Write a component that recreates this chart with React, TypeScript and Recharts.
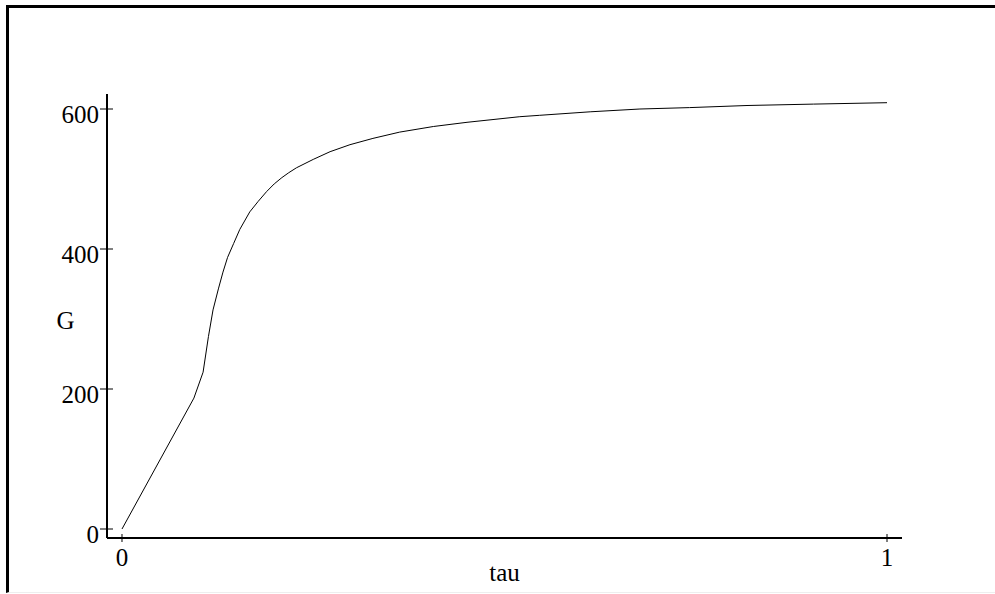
import { Line, LineChart, XAxis, YAxis, Label } from "recharts";

const FONT = "'Liberation Serif', 'Times New Roman', serif";

// G against tau
const tauValues = [
  0, 0.094, 0.106, 0.113, 0.119, 0.126, 0.132, 0.138, 0.146, 0.154, 0.167,
  0.178, 0.189, 0.199, 0.209, 0.218, 0.228, 0.25, 0.272, 0.298, 0.328,
  0.363, 0.407, 0.451, 0.52, 0.546, 0.612, 0.677, 0.742, 0.817, 0.904, 1,
];
const gValues = [
  0, 187, 224, 275, 313, 343, 367, 388, 408, 428, 453, 468, 482, 493, 502,
  509, 516, 528, 539, 549, 558, 567, 575, 581, 589, 591, 596, 600, 602, 605,
  607, 609,
];

const xTicks = [0, 1];
const yTicks = [0, 200, 400, 600];

const data = tauValues.map((tau, i) => ({ tau, G: gValues[i] }));

function YTick(props: any) {
  const { x, y, payload } = props;
  return (
    <g>
      <line x1={x - 7} x2={x + 6} y1={y} y2={y} stroke="#000" strokeWidth={1} />
      <text x={x - 8} y={y + 14} textAnchor="end" fontFamily={FONT} fontSize={25} fill="#000">
        {payload.value}
      </text>
    </g>
  );
}

function XTick(props: any) {
  const { x, y, payload } = props;
  return (
    <g>
      <line x1={x} x2={x} y1={y - 4} y2={y + 4} stroke="#000" strokeWidth={1} />
      <text x={x} y={y + 28} textAnchor="middle" fontFamily={FONT} fontSize={25} fill="#000">
        {payload.value}
      </text>
    </g>
  );
}

export default function App() {
  return (
    <div style={{ position: "absolute", left: 0, top: 0, width: 995, height: 594, background: "#fff" }}>
      {/* frame */}
      <div
        style={{
          position: "absolute",
          left: 6,
          top: 5,
          right: 0,
          bottom: 1,
          borderLeft: "3px solid #000",
          borderTop: "3px solid #000",
          borderBottom: "1px solid #eee",
        }}
      />
      <div style={{ position: "absolute", left: 0, top: 0 }}>
        <LineChart
          width={995}
          height={594}
          data={data}
          margin={{ top: 94, right: 93, bottom: 26, left: 57 }}
        >
          <XAxis
            dataKey="tau"
            type="number"
            domain={[-0.0196, 1.0196]}
            ticks={xTicks}
            allowDataOverflow
            height={30}
            tickSize={0}
            tickMargin={0}
            tickLine={false}
            axisLine={{ stroke: "#000", strokeWidth: 2 }}
            tick={(p: any) => <XTick {...p} />}
          >
            <Label
              value="tau"
              position="insideBottom"
              content={(p: any) => {
                const vb = p.viewBox;
                return (
                  <text
                    x={vb.x + vb.width / 2}
                    y={vb.y + 43}
                    textAnchor="middle"
                    fontFamily={FONT}
                    fontSize={25}
                    fill="#000"
                  >
                    tau
                  </text>
                );
              }}
            />
          </XAxis>
          <YAxis
            type="number"
            domain={[-12.857, 621.43]}
            ticks={yTicks}
            allowDataOverflow
            width={50}
            tickSize={0}
            tickMargin={0}
            tickLine={false}
            axisLine={{ stroke: "#000", strokeWidth: 2 }}
            tick={(p: any) => <YTick {...p} />}
          />
          <text x={65.5} y={329} textAnchor="middle" fontFamily={FONT} fontSize={25} fill="#000">
            G
          </text>
          <Line
            type="linear"
            dataKey="G"
            stroke="#000"
            strokeWidth={1}
            dot={false}
            isAnimationActive={false}
          />
        </LineChart>
      </div>
    </div>
  );
}
